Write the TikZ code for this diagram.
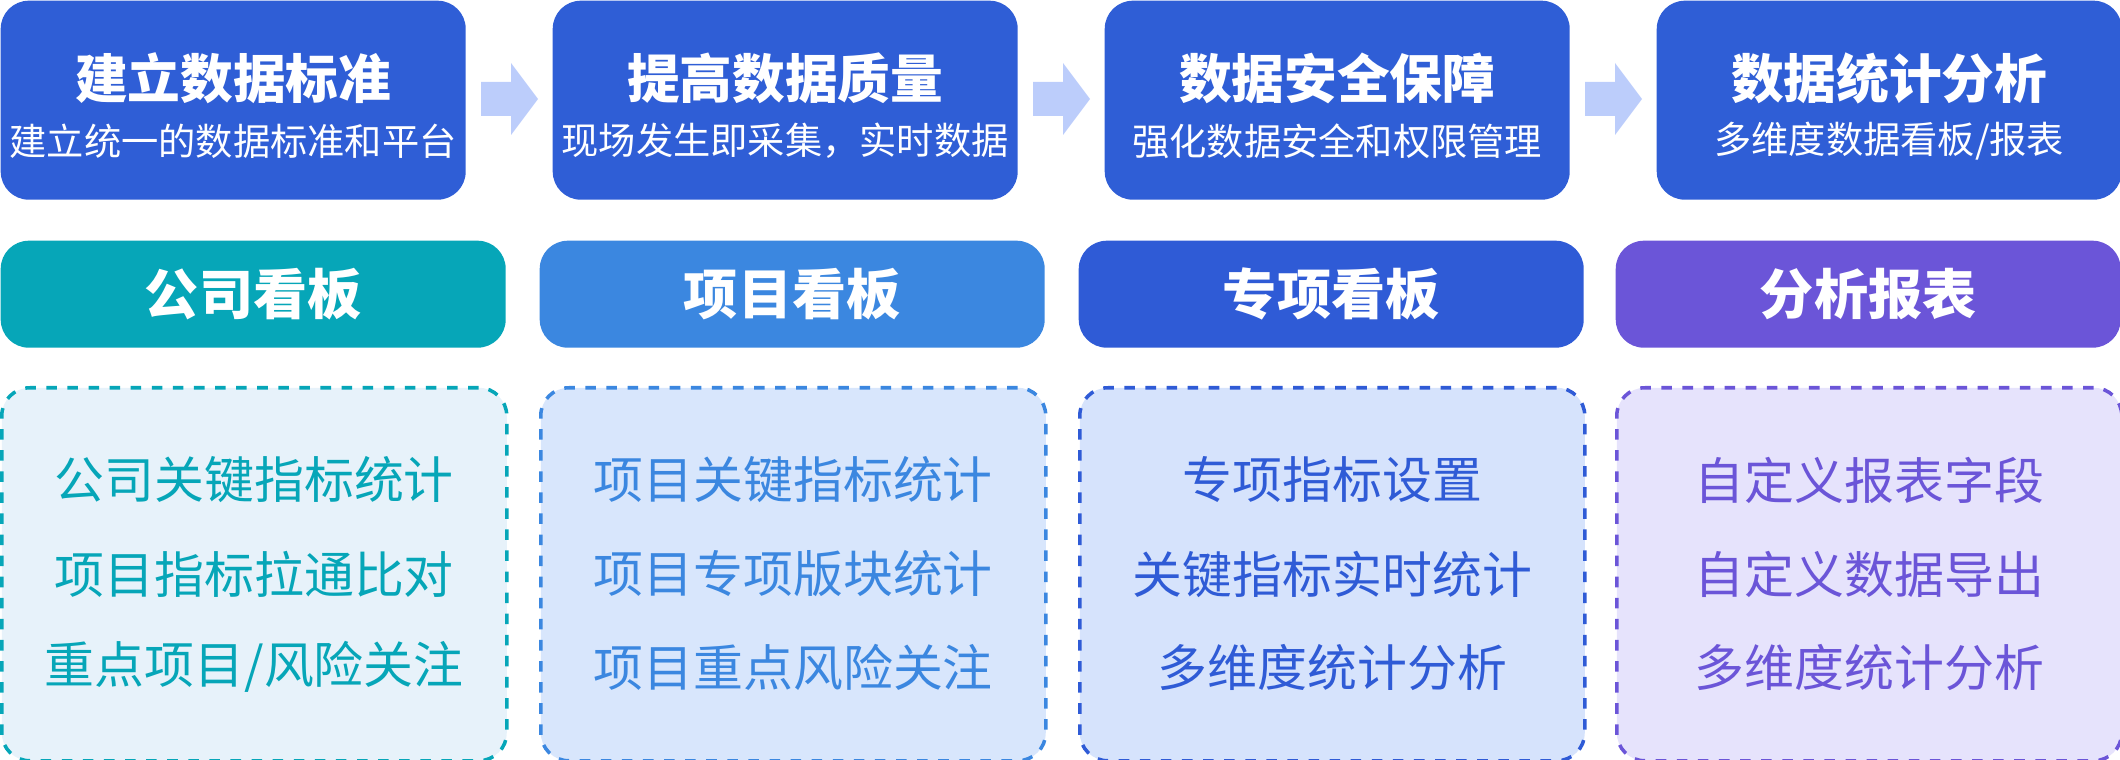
\documentclass[tikz,border=0pt]{standalone}
\usepackage{fontspec}
\setmainfont{Noto Sans CJK SC}
\usetikzlibrary{positioning,calc}
\definecolor{stepblue}{HTML}{2F5ED6}
\definecolor{arrowblue}{HTML}{BCCDFB}
\definecolor{teal1}{HTML}{06A6B8}
\definecolor{blue2}{HTML}{3B87E0}
\definecolor{blue3}{HTML}{2F5BD6}
\definecolor{purple4}{HTML}{6B55D8}
\definecolor{fill1}{HTML}{E7F2FA}
\definecolor{fill2}{HTML}{D8E6FC}
\definecolor{fill3}{HTML}{D6E3FC}
\definecolor{fill4}{HTML}{E6E3FC}
\tikzset{
  stepbox/.style={fill=stepblue, rounded corners=8pt, minimum width=4.65cm, minimum height=1.99cm, anchor=north west},
  headbox/.style={fill=#1, rounded corners=8pt, minimum width=5.05cm, minimum height=1.07cm, anchor=north west, text=white, font=\bfseries\fontsize{15.4pt}{18pt}\selectfont},
  listbox/.style={draw=#1, dashed, line width=1pt, rounded corners=8pt, minimum width=5.05cm, minimum height=3.73cm, anchor=north west},
  flowarrow/.style={fill=arrowblue}
}
\newcommand{\flowarrow}[1]{%
  \fill[flowarrow] (#1,-0.82) -- ++(0.30,0) -- ++(0,0.19) -- ++(0.27,-0.36) -- ++(-0.27,-0.36) -- ++(0,0.19) -- ++(-0.30,0) -- cycle;}
\begin{document}
\begin{tikzpicture}
  \useasboundingbox (0,0) rectangle (21.2,-7.6);

  % top row: steps
  \foreach \i/\title/\sub in {0/建立数据标准/建立统一的数据标准和平台,
      1/提高数据质量/现场发生即采集，实时数据,
      2/数据安全保障/强化数据安全和权限管理,
      3/数据统计分析/{多维度数据看板/报表}} {
    \node[stepbox] (step\i) at (5.52*\i,0) {};
    \node[text=white, font=\bfseries\fontsize{15pt}{18pt}\selectfont] (title\i) at ($(step\i.north)+(0,-0.78)$) {\title};
    \node[text=white, font=\fontsize{10.6pt}{13pt}\selectfont] (sub\i) at ($(step\i.north)+(0,-1.41)$) {\sub};
  }
  \flowarrow{4.81}
  \flowarrow{10.33}
  \flowarrow{15.85}

  % second row: boards
  \node[headbox=teal1]   (board1) at (0,-2.40) {公司看板};
  \node[headbox=blue2]   (board2) at (5.39,-2.40) {项目看板};
  \node[headbox=blue3]   (board3) at (10.78,-2.40) {专项看板};
  \node[headbox=purple4] (board4) at (16.15,-2.40) {分析报表};

  % third row: lists
  \node[listbox=teal1, fill=fill1]   (list1) at (0,-3.86) {};
  \node[listbox=blue2, fill=fill2]   (list2) at (5.39,-3.86) {};
  \node[listbox=blue3, fill=fill3]   (list3) at (10.78,-3.86) {};
  \node[listbox=purple4, fill=fill4] (list4) at (16.15,-3.86) {};

  \foreach \n/\c/\a/\b/\d in {1/teal1/公司关键指标统计/项目指标拉通比对/{重点项目/风险关注},
      2/blue2/项目关键指标统计/项目专项版块统计/项目重点风险关注,
      3/blue3/专项指标设置/关键指标实时统计/多维度统计分析,
      4/purple4/自定义报表字段/自定义数据导出/多维度统计分析} {
    \node[text=\c, font=\fontsize{14.2pt}{17pt}\selectfont] (item\n a) at ($(list\n.north)+(0,-0.94)$) {\a};
    \node[text=\c, font=\fontsize{14.2pt}{17pt}\selectfont] (item\n b) at ($(list\n.north)+(0,-1.88)$) {\b};
    \node[text=\c, font=\fontsize{14.2pt}{17pt}\selectfont] (item\n c) at ($(list\n.north)+(0,-2.81)$) {\d};
  }
\end{tikzpicture}
\end{document}
